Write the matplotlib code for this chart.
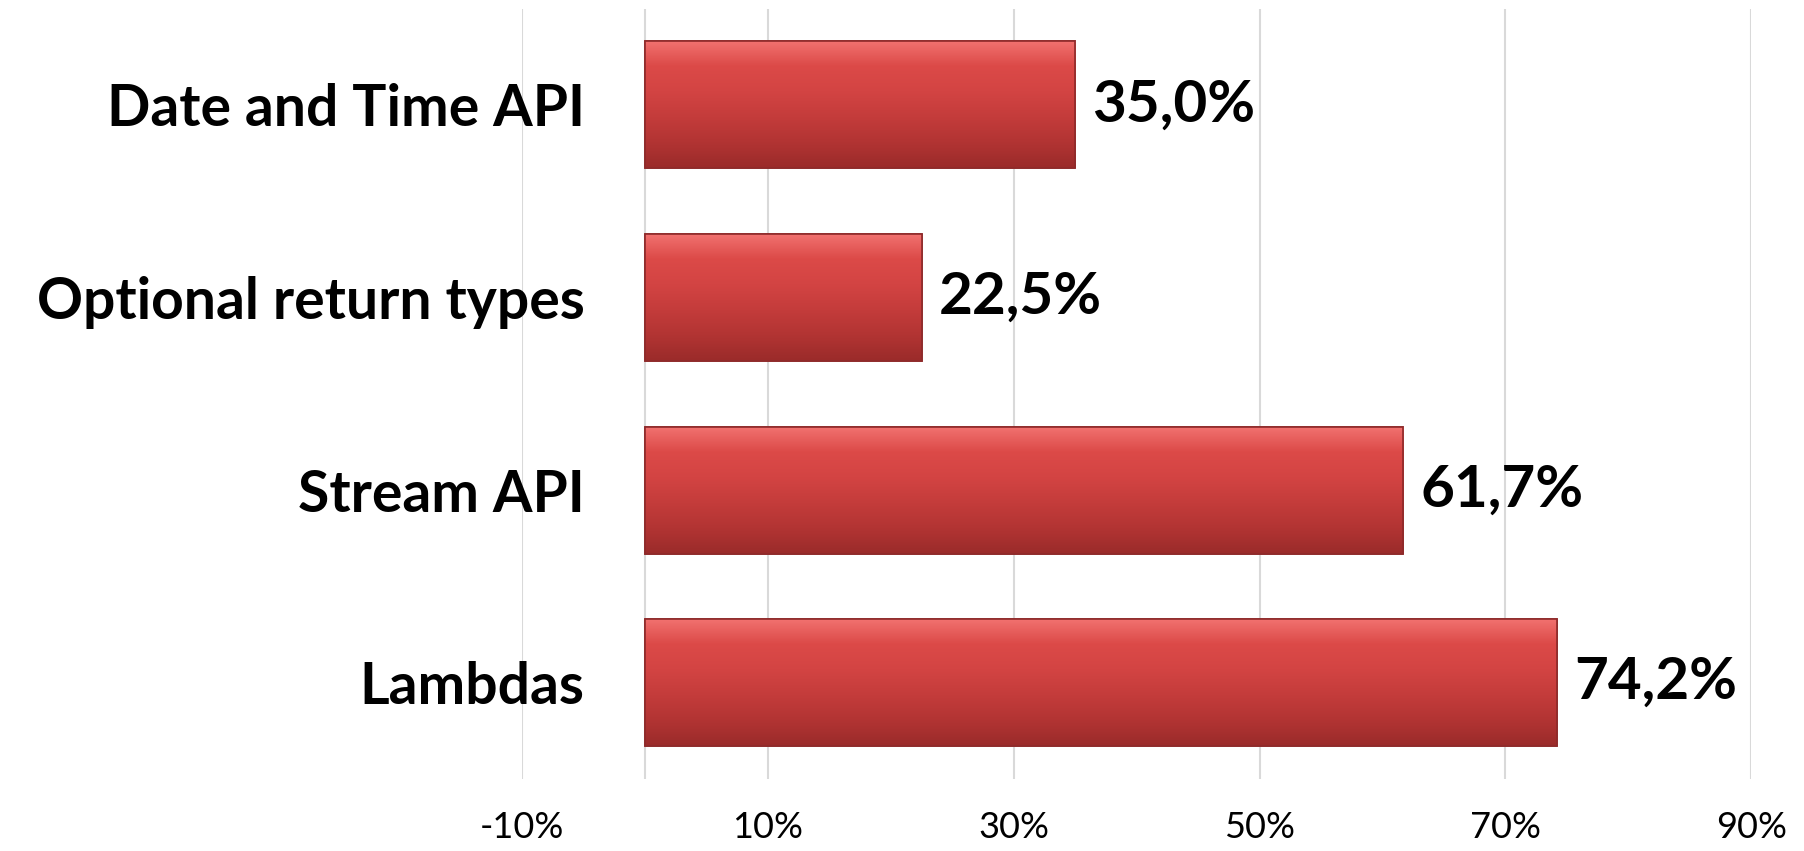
import numpy as np
import matplotlib
matplotlib.use("Agg")
import matplotlib.pyplot as plt
from matplotlib.colors import LinearSegmentedColormap

categories = ["Date and Time API", "Optional return types", "Stream API", "Lambdas"]
values = [35.0, 22.5, 61.7, 74.2]
xticks = [-10, 10, 30, 50, 70, 90]
xtick_labels = ["-10%", "10%", "30%", "50%", "70%", "90%"]
gridlines = [-10, 0, 10, 30, 50, 70, 90]

plt.rcParams['font.family'] = ['Lato', 'DejaVu Sans']

fig = plt.figure(figsize=(18.04, 8.51), dpi=100)
ax = fig.add_axes([0.2894, 0.0846, 0.6813, 0.9054])

ypos = np.arange(len(categories))[::-1]
bars = ax.barh(ypos, values, height=0.66, color="#c93c3b",
               edgecolor="#8e2a2a", linewidth=1.2, zorder=3)

# vertical gradient inside each bar (light top -> dark bottom)
cmap = LinearSegmentedColormap.from_list(
    "redgrad", ["#9a2b2a", "#b23433", "#c43c3b", "#d34443", "#dc4a48", "#f27371"])
grad = np.linspace(0, 1, 256).reshape(-1, 1)
for b in bars:
    x0, y0 = b.get_x(), b.get_y()
    w, h = b.get_width(), b.get_height()
    im = ax.imshow(grad, cmap=cmap, aspect="auto", origin="lower",
                   extent=[x0, x0 + w, y0, y0 + h], zorder=3.5)
    im.set_clip_path(b)
    ax.add_patch(plt.Rectangle((x0, y0), w, h, fill=False,
                               edgecolor="#8e2a2a", linewidth=1.2, zorder=4))

for y, v in zip(ypos, values):
    ax.text(v + 1.4, y, ("%.1f%%" % v).replace(".", ","), va="center",
            ha="left", fontsize=42, fontweight="bold", color="black", zorder=5)

ax.set_xlim(-10, 90)
ax.set_ylim(-0.5, len(categories) - 0.5)
ax.set_xticks(xticks)
ax.set_xticklabels(xtick_labels, fontsize=26)
ax.set_yticks(ypos)
ax.set_yticklabels(categories, fontsize=41, fontweight="bold")
ax.tick_params(axis="both", length=0)
ax.tick_params(axis="x", pad=23)
ax.tick_params(axis="y", pad=-45)   # labels sit inside the left part of the axes
for g in gridlines:
    ax.axvline(g, color="#d9d9d9", linewidth=1.5, zorder=1)
for s in ax.spines.values():
    s.set_visible(False)

plt.savefig("out.png", dpi=100)
